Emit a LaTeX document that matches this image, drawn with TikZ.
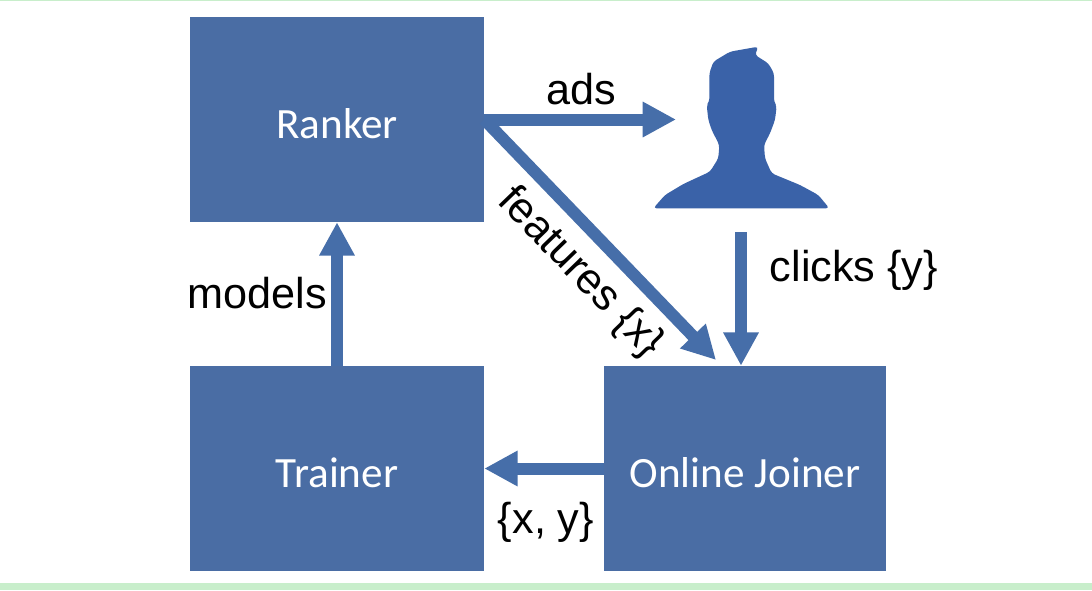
\documentclass[tikz,border=0pt]{standalone}
\usepackage{fontspec}
\setmainfont{Liberation Sans}
\newfontfamily\boxfont{Carlito}
\usetikzlibrary{arrows.meta}
\definecolor{boxblue}{HTML}{4A6DA4}
\definecolor{personblue}{HTML}{3A62A8}
\definecolor{arrowblue}{HTML}{466EA9}
\definecolor{barGreen}{HTML}{C8EECB}
\newcommand{\boxtext}[1]{\raisebox{-3pt}[\height][\depth]{#1}}
\tikzset{
  blockbox/.style={draw=none,fill=boxblue,minimum width=#1,minimum height=153.75pt,inner sep=0pt,text=white,font=\boxfont\fontsize{32.4}{34}\selectfont},
  flow/.style={draw=arrowblue,line width=#1,-{Triangle[length=25pt,width=25pt]}},
  flow/.default=9pt,
  tag/.style={text=black,inner sep=0pt,font=\fontsize{32.4}{36}\selectfont}
}
\begin{document}
\begin{tikzpicture}[x=0.75pt,y=-0.75pt]
\useasboundingbox (0,0) rectangle (1092,590);
\fill[white] (0,0) rectangle (1092,590);
\fill[barGreen] (0,0) rectangle (1092,1);
\fill[barGreen] (0,583) rectangle (1092,590);
\node[blockbox=220.5pt] (ranker) at (337,119.5) {\boxtext{Ranker}};
\node[blockbox=220.5pt] (trainer) at (337,468.5) {\boxtext{Trainer}};
\node[blockbox=211.5pt] (joiner) at (745,468.5) {\boxtext{Online Joiner}};
\begin{scope}[shift={(640,30)},scale=1/3]
\fill[personblue,rounded corners=2.5pt] (40,535) -- (75,495) -- (130,462) -- (210,425) -- (235,385) -- (238,345) -- (215,300) -- (205,270) -- (200,225) -- (208,215) -- (208,130) -- (220,95) -- (270,65) -- (355,50) -- (345,75) -- (385,100) -- (402,130) -- (402,215) -- (410,228) -- (405,270) -- (390,310) -- (372,345) -- (375,385) -- (395,430) -- (480,465) -- (535,495) -- (568,535) -- cycle;
\end{scope}
\coordinate (adsend) at (676,119.5);
\coordinate (featend) at (716,360);
\coordinate (clickstart) at (741,232);
\draw[flow] (ranker.east) -- (adsend);
\draw[flow] (ranker.east) -- (featend);
\draw[flow] (clickstart) -- (clickstart |- joiner.north);
\draw[flow] (trainer.north) -- (ranker.south);
\draw[flow] (joiner.west) -- (trainer.east);
\node[tag] (adslabel) at (581,89) {ads};
\node[tag] (clickslabel) at (854,270) {clicks \{y\}};
\node[tag] (modelslabel) at (257,293) {models};
\node[tag] (xylabel) at (546,522) {\{x, y\}};
\node[tag,rotate=-46] (featlabel) at (580,273) {features \{x\}};
\end{tikzpicture}
\end{document}
